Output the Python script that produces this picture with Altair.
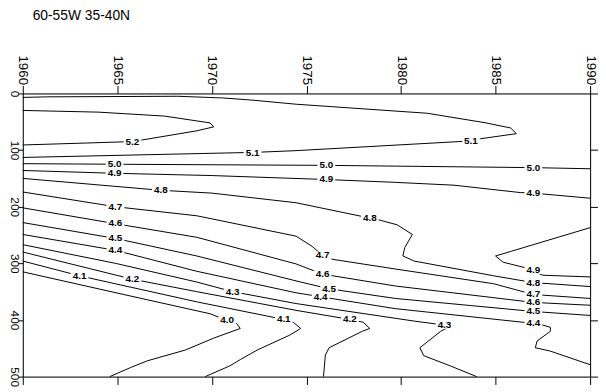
import altair as alt
import pandas as pd

# ---- contour lines (year, depth in m) ----
c52_year = [1960.0, 1964.0, 1967.5, 1969.9, 1970.1, 1969.2, 1965.8, 1960.0]
c52_depth = [30, 33, 40, 52, 59, 66, 85, 91]

c51_year = [1960.0, 1961.3, 1968.2, 1970.6, 1972.2, 1974.45, 1981.4, 1984.5, 1985.8, 1986.1, 1984.2, 1983.6, 1974.45, 1972.3, 1960.0]
c51_depth = [7, 6, 5, 8, 12, 19, 35, 52, 61, 71, 80, 84, 101, 104, 113]

c50_year = [1960.0, 1964.85, 1976.05, 1987.0, 1990.0]
c50_depth = [124, 125, 127, 131, 133]

c49_year = [1960.0, 1964.85, 1970.0, 1976.05, 1979.7, 1982.8, 1986.3, 1987.0, 1990.0]
c49_depth = [136, 141, 145, 152, 157, 162, 175, 176, 185]

c49b_year = [1990.0, 1985.8, 1985.0, 1985.4, 1986.6, 1987.5, 1990.0]
c49b_depth = [237, 279, 287, 298, 308, 321, 324]

c48_year = [1960.0, 1967.3, 1970.0, 1974.45, 1978.35, 1978.8, 1979.8, 1980.6, 1980.2, 1980.1, 1980.7, 1984.9, 1987.0, 1990.0]
c48_depth = [150, 171, 176, 193, 220, 223, 232, 249, 272, 287, 296, 322, 334, 341]

c47_year = [1960.0, 1964.9, 1969.2, 1974.45, 1975.3, 1975.85, 1976.4, 1979.7, 1984.9, 1987.0, 1990.0]
c47_depth = [174, 200, 216, 252, 270, 286, 293, 310, 336, 355, 362]

c46_year = [1960.0, 1964.9, 1969.2, 1974.45, 1975.85, 1979.7, 1987.0, 1990.0]
c46_depth = [202, 230, 254, 301, 319, 340, 369, 374]

c45_year = [1960.0, 1964.9, 1969.2, 1974.45, 1976.2, 1979.7, 1987.0, 1990.0]
c45_depth = [228, 256, 287, 331, 345, 362, 385, 392]

c44_year = [1960.0, 1964.9, 1969.2, 1974.45, 1975.75, 1979.7, 1987.0, 1987.5, 1987.9, 1987.9, 1987.2, 1987.1, 1987.9, 1990.0]
c44_depth = [249, 277, 314, 352, 359, 380, 406, 409, 413, 420, 437, 449, 455, 479]

c43_year = [1960.0, 1964.9, 1969.2, 1971.1, 1974.45, 1980.7, 1982.3, 1982.6, 1982.1, 1981.0, 1981.2, 1982.6, 1984.0]
c43_depth = [267, 300, 333, 350, 371, 402, 409, 411, 420, 449, 463, 481, 500]

c42_year = [1960.0, 1965.8, 1969.2, 1974.45, 1977.3, 1978.0, 1978.35, 1977.95, 1976.2, 1976.0, 1975.9]
c42_depth = [280, 328, 350, 383, 399, 404, 415, 420, 449, 462, 500]

c41_year = [1960.0, 1963.0, 1969.2, 1973.8, 1974.3, 1974.7, 1974.1, 1972.4, 1971.5, 1970.95, 1969.65]
c41_depth = [296, 322, 368, 399, 404, 415, 427, 453, 470, 481, 500]

c40_year = [1960.0, 1965.2, 1969.9, 1970.8, 1971.3, 1971.5, 1970.1, 1968.6, 1966.6, 1965.7, 1964.6]
c40_depth = [315, 354, 389, 401, 406, 415, 432, 453, 472, 484, 500]

# ---- contour labels ----
label_text = ["5.2", "5.1", "5.1", "5.0", "5.0", "5.0", "4.9", "4.9", "4.9", "4.9",
              "4.8", "4.8", "4.8", "4.7", "4.7", "4.7", "4.6", "4.6", "4.6",
              "4.5", "4.5", "4.5", "4.4", "4.4", "4.4", "4.3", "4.3", "4.2", "4.2",
              "4.1", "4.1", "4.0"]
label_year = [1965.8, 1972.15, 1983.7, 1964.85, 1976.05, 1987.0, 1964.85, 1976.05, 1987.0, 1987.0,
              1967.3, 1978.35, 1987.0, 1964.9, 1975.85, 1987.0, 1964.9, 1975.85, 1987.0,
              1964.9, 1976.2, 1987.0, 1964.9, 1975.75, 1987.0, 1971.1, 1982.3, 1965.8, 1977.3,
              1963.0, 1973.8, 1970.8]
label_depth = [85, 105, 84, 125, 127, 131, 141, 152, 176, 312,
               171, 220, 334, 200, 286, 355, 228, 319, 369,
               256, 345, 385, 277, 359, 406, 350, 409, 328, 399,
               322, 399, 401]

year_ticks = [1960, 1965, 1970, 1975, 1980, 1985, 1990]
depth_ticks = [0, 100, 200, 300, 400, 500]

contours = [
    ("5.2", c52_year, c52_depth), ("5.1", c51_year, c51_depth), ("5.0", c50_year, c50_depth),
    ("4.9", c49_year, c49_depth), ("4.9b", c49b_year, c49b_depth), ("4.8", c48_year, c48_depth),
    ("4.7", c47_year, c47_depth), ("4.6", c46_year, c46_depth), ("4.5", c45_year, c45_depth),
    ("4.4", c44_year, c44_depth), ("4.3", c43_year, c43_depth), ("4.2", c42_year, c42_depth),
    ("4.1", c41_year, c41_depth), ("4.0", c40_year, c40_depth),
]
rows = []
for seg, ys, ds in contours:
    for i, (yv, dv) in enumerate(zip(ys, ds)):
        rows.append({"seg": seg, "idx": i, "year": yv, "depth": dv})
line_df = pd.DataFrame(rows)
label_df = pd.DataFrame({"text": label_text, "year": label_year, "depth": label_depth})

FONT = "Liberation Sans"
xscale = alt.Scale(domain=[1960, 1990], nice=False, zero=False)
yscale = alt.Scale(domain=[0, 500], reverse=True, nice=False, zero=False)

common_axis = dict(grid=False, title=None, domainColor="black", tickColor="black",
                   labelColor="black", labelFont=FONT,
                   domainWidth=1, tickWidth=1)

lines = alt.Chart(line_df).mark_line(color="black", strokeWidth=1).encode(
    x=alt.X("year:Q", scale=xscale,
            axis=alt.Axis(orient="top", values=year_ticks, format="d", labelAngle=90,
                          labelAlign="right", labelBaseline="middle", labelPadding=1,
                          tickSize=8, labelFontSize=13.5, **common_axis)),
    y=alt.Y("depth:Q", scale=yscale,
            axis=alt.Axis(orient="left", values=depth_ticks, format="d", labelAngle=90,
                          labelAlign="center", labelBaseline="top", labelPadding=-2,
                          tickSize=5, labelFontSize=12, **common_axis)),
    detail="seg:N",
    order="idx:Q",
)

boxes = alt.Chart(label_df).mark_point(
    shape="M-1,-0.42H1V0.42H-1Z", size=324, filled=True, fill="white",
    strokeWidth=0, opacity=1,
).encode(
    x=alt.X("year:Q", scale=xscale,
            axis=alt.Axis(orient="bottom", values=year_ticks, labels=False, tickSize=8,
                          **common_axis)),
    y=alt.Y("depth:Q", scale=yscale,
            axis=alt.Axis(orient="right", values=depth_ticks, labels=False, tickSize=8,
                          **common_axis)),
)

texts = alt.Chart(label_df).mark_text(
    font=FONT, fontSize=10, fontWeight="bold", color="black", align="center", baseline="middle"
).encode(
    x=alt.X("year:Q", scale=xscale, axis=None),
    y=alt.Y("depth:Q", scale=yscale, axis=None),
    text="text:N",
)

chart = alt.layer(lines, boxes, texts).resolve_axis(x="independent", y="independent").properties(
    width=575, height=287,
    title=alt.TitleParams("60-55W 35-40N", anchor="start", frame="group", dx=10, offset=32,
                          fontSize=14, fontWeight="normal", font=FONT, color="black"),
    autosize=alt.AutoSizeParams(type="none"),
    padding={"left": 15, "top": 84, "right": 8, "bottom": 13},
).configure_view(stroke=None).configure(background="white")

chart.save("out.html", embed_options={"renderer": "svg", "actions": False})
